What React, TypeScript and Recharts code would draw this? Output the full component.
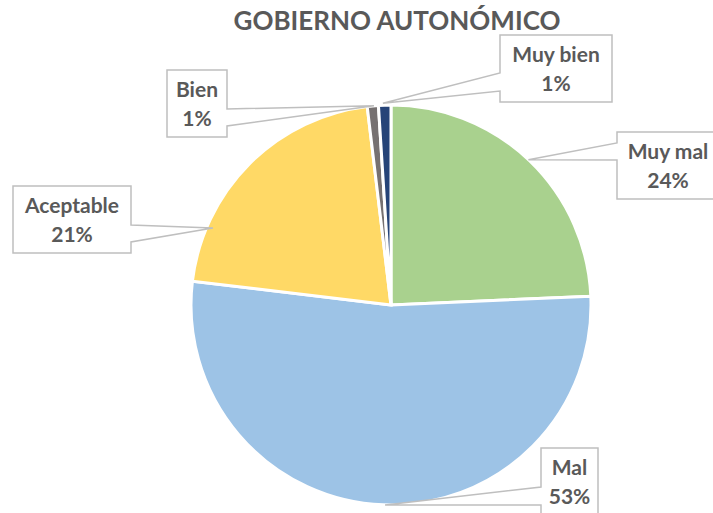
import { PieChart, Pie, Cell } from "recharts";

const CATEGORIES = ["Muy mal", "Mal", "Aceptable", "Bien", "Muy bien"];
const VALUES = [24.3, 52.6, 21.2, 0.9, 1.0];
const COLORS = ["#A9D18E", "#9DC3E6", "#FFD966", "#767171", "#264478"];

const TITLE = "GOBIERNO AUTONÓMICO";

// callout boxes, relative to the pie centre
const CALLOUTS = [
    { x: 226, y: -173, w: 102, h: 67, side: "left", y1: -162, y2: -145, angle: 43.4, rf: 1.0 },
    { x: 150, y: 143, w: 57, h: 70, side: "left", y1: 182, y2: 200, angle: 181.7, rf: 1.0 },
    { x: -378, y: -119, w: 118, h: 67, side: "right", y1: -80, y2: -63, angle: 293.4, rf: 0.97 },
    { x: -224, y: -235, w: 60, h: 67, side: "right", y1: -196, y2: -179, angle: 355.1, rf: 1.0 },
    { x: 109, y: -270, w: 112, h: 67, side: "left", y1: -232, y2: -214, angle: 357.7, rf: 1.01 },
];

const data = CATEGORIES.map((name, i) => ({ name, value: VALUES[i] }));

const renderCallout = (props: any) => {
    const { cx, cy, outerRadius, index, percent, name } = props;
    const c = CALLOUTS[index];
    const rad = (c.angle * Math.PI) / 180;
    const ax = cx + outerRadius * c.rf * Math.sin(rad);
    const ay = cy - outerRadius * c.rf * Math.cos(rad);
    const x = cx + c.x;
    const y = cy + c.y;
    const y1 = cy + c.y1;
    const y2 = cy + c.y2;
    let d;
    if (c.side === "left") {
        d = `M${x},${y} L${x + c.w},${y} L${x + c.w},${y + c.h} L${x},${y + c.h} L${x},${y2} L${ax},${ay} L${x},${y1} Z`;
    } else {
        d = `M${x},${y} L${x + c.w},${y} L${x + c.w},${y1} L${ax},${ay} L${x + c.w},${y2} L${x + c.w},${y + c.h} L${x},${y + c.h} Z`;
    }
    const tx = x + c.w / 2;
    return (
        <g key={`callout-${index}`}>
            <path d={d} fill="#fff" stroke="#BFBFBF" strokeWidth={1.5} />
            <text x={tx} y={y + 27} textAnchor="middle" fill="#595959" fontSize={21} fontWeight={700} fontFamily="Lato">
                {name}
            </text>
            <text x={tx} y={y + 56} textAnchor="middle" fill="#595959" fontSize={21} fontWeight={700} fontFamily="Lato">
                {Math.round(percent * 100)}%
            </text>
        </g>
    );
};

export default function App() {
    return (
        <div style={{ position: "absolute", left: 0, top: 0, width: 713, height: 513, background: "#fff" }}>
            <div
                style={{
                    position: "absolute",
                    left: 0,
                    top: 3,
                    width: 794,
                    textAlign: "center",
                    fontFamily: "Lato",
                    fontWeight: 700,
                    fontSize: 26,
                    color: "#595959",
                    lineHeight: "34px",
                }}
            >
                {TITLE}
            </div>
            <PieChart width={713} height={513} margin={{ top: 0, right: 0, bottom: 0, left: 0 }}>
                <Pie
                    data={data}
                    dataKey="value"
                    nameKey="name"
                    cx={391}
                    cy={305}
                    outerRadius={200}
                    startAngle={90}
                    endAngle={-270}
                    stroke="#fff"
                    strokeWidth={3}
                    label={renderCallout}
                    labelLine={false}
                    isAnimationActive={false}
                >
                    {data.map((_, i) => (
                        <Cell key={i} fill={COLORS[i]} />
                    ))}
                </Pie>
            </PieChart>
        </div>
    );
}
